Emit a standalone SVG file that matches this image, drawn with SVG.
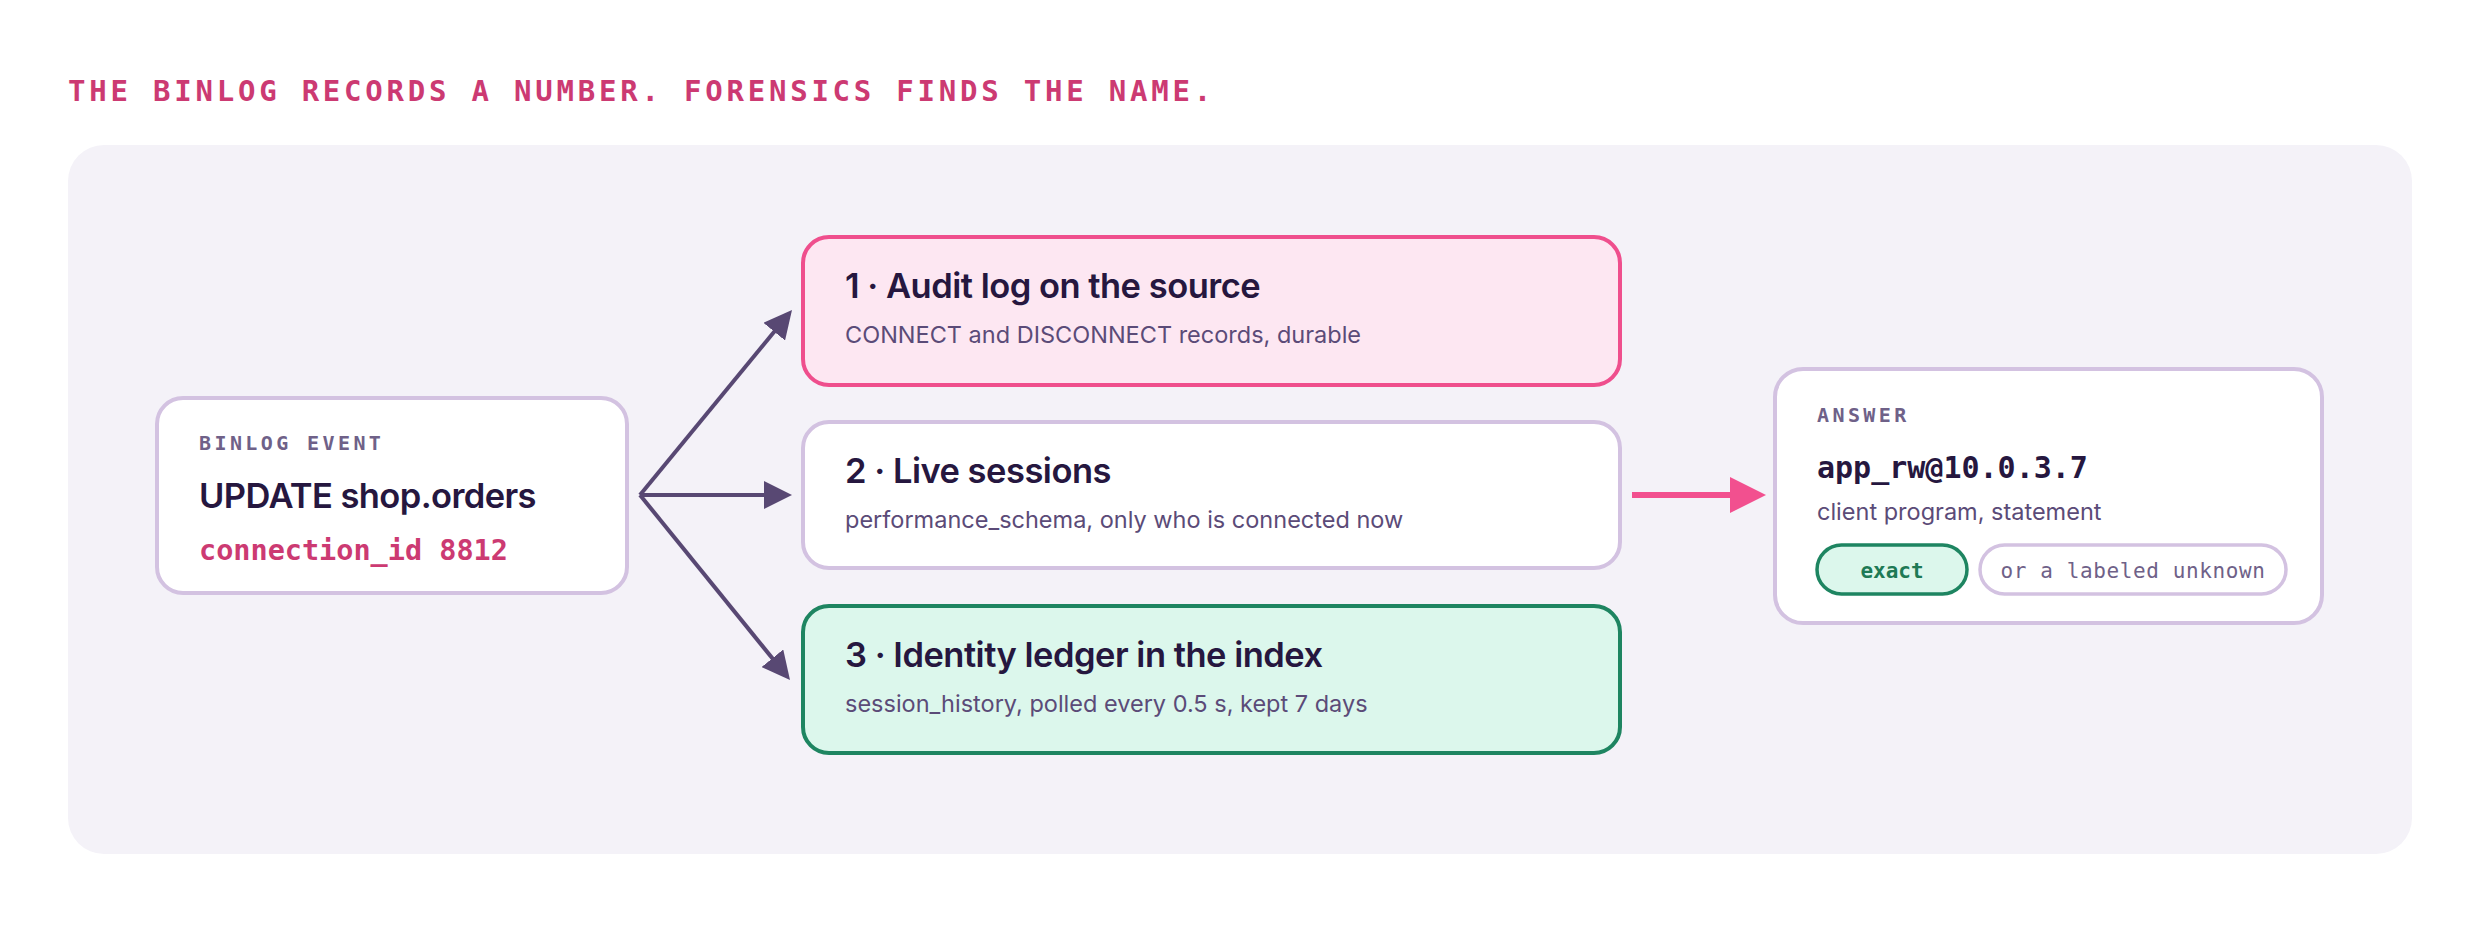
<svg xmlns="http://www.w3.org/2000/svg" width="2480" height="933" viewBox="0 0 2480 933">
<defs>
<style>
.mono{font-family:"DejaVu Sans Mono","Liberation Mono",monospace}
.sans{font-family:Inter,"Liberation Sans",sans-serif}
.card{fill:#ffffff;stroke:#d3c2e1;stroke-width:4}
.kicker{font-size:20px;letter-spacing:3.4px;fill:#6f6188;font-weight:700}
.head{font-size:34.5px;font-weight:600;fill:#26173f;letter-spacing:-0.5px}
.sub{font-size:23.5px;fill:#5b4b78;letter-spacing:0px}
.conn{fill:none;stroke:#584873;stroke-width:4}
</style>
<marker id="ah" viewBox="0 0 28 28" refX="8" refY="14" markerWidth="28" markerHeight="28" markerUnits="userSpaceOnUse" orient="auto"><path d="M0,0 L28,14 L0,28 z" fill="#584873"/></marker>
<marker id="ahp" viewBox="0 0 36 36" refX="4" refY="18" markerWidth="36" markerHeight="36" markerUnits="userSpaceOnUse" orient="auto"><path d="M0,0 L36,18 L0,36 z" fill="#f2508f"/></marker>
</defs>
<rect width="2480" height="933" fill="#ffffff"/>
<text class="mono" x="68" y="101" font-size="29" font-weight="700" letter-spacing="3.78" fill="#cc3a72">THE BINLOG RECORDS A NUMBER. FORENSICS FINDS THE NAME.</text>
<rect x="68" y="145" width="2344" height="709" rx="36" fill="#f4f2f8"/>
<g id="connectors">
<path class="conn" d="M640,495 L779.3,325.5" marker-end="url(#ah)"/>
<path class="conn" d="M640,495 L772,495" marker-end="url(#ah)"/>
<path class="conn" d="M640,495 L777.4,664.5" marker-end="url(#ah)"/>
<path d="M1632,495 L1734,495" fill="none" stroke="#f2508f" stroke-width="6" marker-end="url(#ahp)"/>
</g>
<g id="binlog">
<rect class="card" x="157" y="398" width="470" height="195" rx="26"/>
<text class="mono kicker" x="199" y="450">BINLOG EVENT</text>
<text class="sans" x="199" y="508" font-size="34.5" font-weight="600" fill="#26173f" letter-spacing="-0.6">UPDATE shop.orders</text>
<text class="mono" x="199" y="560" font-size="28.5" font-weight="700" fill="#cc3a72">connection_id 8812</text>
</g>
<g id="audit">
<rect x="803" y="237" width="817" height="148" rx="26" fill="#fde7f2" stroke="#ef4f8d" stroke-width="4"/>
<text class="sans head" x="845" y="298">1 · Audit log on the source</text>
<text class="sans sub" x="845" y="343">CONNECT and DISCONNECT records, durable</text>
</g>
<g id="live">
<rect class="card" x="803" y="422" width="817" height="146" rx="26"/>
<text class="sans head" x="845" y="483">2 · Live sessions</text>
<text class="sans sub" x="845" y="528">performance_schema, only who is connected now</text>
</g>
<g id="ledger">
<rect x="803" y="606" width="817" height="147" rx="26" fill="#dcf7ec" stroke="#1e8561" stroke-width="4"/>
<text class="sans head" x="845" y="667">3 · Identity ledger in the index</text>
<text class="sans sub" x="845" y="712">session_history, polled every 0.5 s, kept 7 days</text>
</g>
<g id="answer">
<rect class="card" x="1775" y="369" width="547" height="254" rx="28"/>
<text class="mono kicker" x="1817" y="422">ANSWER</text>
<text class="mono" x="1817" y="478" font-size="30" font-weight="700" fill="#26173f">app_rw@10.0.3.7</text>
<text class="sans sub" x="1817" y="520">client program, statement</text>
<rect x="1817" y="545" width="150" height="49" rx="24.5" fill="#dcf7ec" stroke="#1e8561" stroke-width="3.5"/>
<text class="mono" x="1892" y="578" text-anchor="middle" font-size="21" font-weight="700" fill="#1e7a55">exact</text>
<rect x="1980" y="545" width="306" height="49" rx="24.5" fill="#ffffff" stroke="#d3c2e1" stroke-width="3.5"/>
<text class="mono" x="2133" y="578" text-anchor="middle" font-size="21" letter-spacing="0.6" fill="#6f6188">or a labeled unknown</text>
</g>
</svg>
